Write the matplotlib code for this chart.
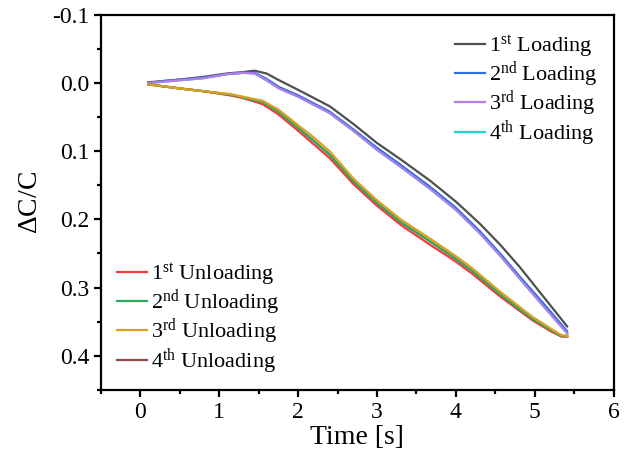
import numpy as np
import matplotlib
matplotlib.use("Agg")
import matplotlib.pyplot as plt
from matplotlib.ticker import MultipleLocator

plt.rcParams['font.family'] = ['Liberation Serif', 'DejaVu Serif']
plt.rcParams['mathtext.fontset'] = 'custom'
plt.rcParams['mathtext.rm'] = 'Liberation Serif'
plt.rcParams['mathtext.it'] = 'Liberation Serif:italic'
plt.rcParams['axes.unicode_minus'] = False

# loading curves (time [s], dC/C)
t_load = [0.1, 0.3, 0.5, 0.8, 1.1, 1.3, 1.45, 1.6, 1.76, 2.0, 2.4, 2.7, 3.0, 3.3, 3.67, 4.0, 4.3, 4.56, 4.81, 5.1, 5.41]
v_load1 = [-0.001, -0.003, -0.005, -0.009, -0.014, -0.016, -0.018, -0.014, -0.004, 0.010, 0.034, 0.060, 0.088, 0.112, 0.143, 0.174, 0.206, 0.237, 0.270, 0.312, 0.357]
v_load2 = [0.000, -0.003, -0.005, -0.008, -0.013, -0.015, -0.015, -0.006, 0.006, 0.018, 0.042, 0.068, 0.095, 0.120, 0.152, 0.183, 0.217, 0.250, 0.284, 0.322, 0.364]
v_load3 = [0.000, -0.002, -0.004, -0.007, -0.013, -0.015, -0.014, -0.004, 0.008, 0.020, 0.044, 0.070, 0.098, 0.123, 0.155, 0.186, 0.220, 0.253, 0.287, 0.326, 0.367]
v_load4 = v_load3

# unloading curves
t_unload = [0.1, 0.3, 0.5, 0.8, 1.13, 1.3, 1.55, 1.75, 1.98, 2.2, 2.4, 2.7, 3.0, 3.3, 3.67, 4.0, 4.21, 4.56, 4.97, 5.2, 5.34, 5.41]
v_unload1 = [0.002, 0.005, 0.008, 0.012, 0.018, 0.022, 0.031, 0.046, 0.068, 0.090, 0.110, 0.148, 0.180, 0.208, 0.237, 0.262, 0.280, 0.313, 0.348, 0.364, 0.372, 0.372]
v_unload2 = [0.002, 0.005, 0.008, 0.012, 0.017, 0.021, 0.028, 0.042, 0.064, 0.085, 0.105, 0.144, 0.176, 0.204, 0.232, 0.258, 0.276, 0.310, 0.346, 0.362, 0.371, 0.371]
v_unload3 = [0.002, 0.005, 0.008, 0.012, 0.016, 0.020, 0.026, 0.039, 0.060, 0.080, 0.100, 0.140, 0.172, 0.200, 0.228, 0.254, 0.272, 0.306, 0.343, 0.360, 0.370, 0.371]
v_unload4 = v_unload2

load_labels = [r"1$^{\rm st}$ Loading", r"2$^{\rm nd}$ Loading",
               r"3$^{\rm rd}$ Loading", r"4$^{\rm th}$ Loading"]
unload_labels = [r"1$^{\rm st}$ Unloading", r"2$^{\rm nd}$ Unloading",
                 r"3$^{\rm rd}$ Unloading", r"4$^{\rm th}$ Unloading"]

load_colors = ['#4f4f4f', '#2f6fe0', '#b47ee8', '#22d0d0']
unload_colors = ['#f23c3c', '#2eaa62', '#d9a21e', '#8c4a4a']

fig = plt.figure(figsize=(6.34, 4.63), dpi=100)
ax = fig.add_axes([0.159, 0.158, 0.809, 0.810])

lw = 1.6
# hidden 4th runs drawn first (underneath)
l4, = ax.plot(t_load, v_load4, color=load_colors[3], lw=lw)
u4, = ax.plot(t_unload, v_unload4, color=unload_colors[3], lw=lw)
l1, = ax.plot(t_load, v_load1, color=load_colors[0], lw=lw)
l2, = ax.plot(t_load, v_load2, color=load_colors[1], lw=lw)
l3, = ax.plot(t_load, v_load3, color=load_colors[2], lw=lw)
u1, = ax.plot(t_unload, v_unload1, color=unload_colors[0], lw=lw)
u2, = ax.plot(t_unload, v_unload2, color=unload_colors[1], lw=lw)
u3, = ax.plot(t_unload, v_unload3, color=unload_colors[2], lw=lw)

ax.set_xlim(-0.5, 6)
ax.set_ylim(0.45, -0.1)
ax.xaxis.set_major_locator(MultipleLocator(1))
ax.xaxis.set_minor_locator(MultipleLocator(0.5))
ax.yaxis.set_major_locator(MultipleLocator(0.1))
ax.yaxis.set_minor_locator(MultipleLocator(0.05))
ax.yaxis.set_major_formatter(matplotlib.ticker.FormatStrFormatter('%.1f'))

for s in ax.spines.values():
    s.set_linewidth(1.6)
ax.tick_params(which='both', direction='out', width=1.6, labelsize=17)
ax.tick_params(which='major', length=5)
ax.tick_params(which='minor', length=3)

ax.set_xlabel("Time [s]", fontsize=20, labelpad=2)
ax.set_ylabel(r"$\Delta$C/C", fontsize=20, labelpad=6)

leg_kw = dict(frameon=False, fontsize=16, handlelength=1.35, handletextpad=0.18,
              labelspacing=-0.03, borderpad=0.1)
leg1 = ax.legend([l1, l2, l3, l4], load_labels, loc='upper right',
                 bbox_to_anchor=(0.995, 0.985), **leg_kw)
ax.add_artist(leg1)
ax.legend([u1, u2, u3, u4], unload_labels, loc='lower left',
          bbox_to_anchor=(0.005, -0.001), **leg_kw)

fig.savefig("out.png", dpi=100)
